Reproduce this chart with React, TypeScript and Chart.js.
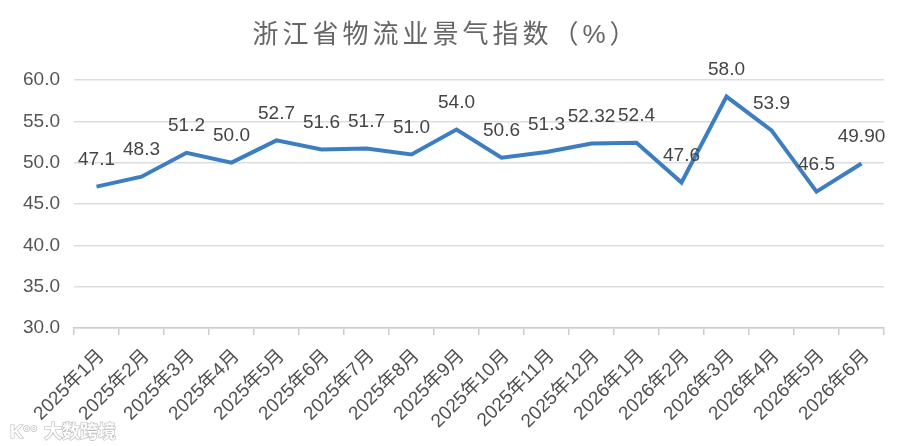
import React, { useEffect, useRef } from "react";
import { Chart, registerables } from "chart.js";

Chart.register(...registerables);

const categories = [
  "2025年1月", "2025年2月", "2025年3月", "2025年4月", "2025年5月", "2025年6月",
  "2025年7月", "2025年8月", "2025年9月", "2025年10月", "2025年11月", "2025年12月",
  "2026年1月", "2026年2月", "2026年3月", "2026年4月", "2026年5月", "2026年6月",
];
const values = [47.1, 48.3, 51.2, 50.0, 52.7, 51.6, 51.7, 51.0, 54.0, 50.6, 51.3, 52.32, 52.4, 47.6, 58.0, 53.9, 46.5, 49.9];
const valueLabels = ["47.1", "48.3", "51.2", "50.0", "52.7", "51.6", "51.7", "51.0", "54.0", "50.6", "51.3", "52.32", "52.4", "47.6", "58.0", "53.9", "46.5", "49.90"];
const title = "浙江省物流业景气指数（%）";
const watermark = "大数跨境";
const yMin = 30;
const yMax = 60;
const yStep = 5;

const FONT = '"Liberation Sans", "Noto Sans CJK SC", sans-serif';

const labelPlugin = {
  id: "customLabels",
  afterDatasetsDraw(chart: any) {
    const ctx = chart.ctx;
    const meta = chart.getDatasetMeta(0);
    ctx.save();
    ctx.font = `19px ${FONT}`;
    ctx.fillStyle = "#444444";
    ctx.textAlign = "center";
    ctx.textBaseline = "middle";
    meta.data.forEach((pt: any, i: number) => {
      ctx.fillText(valueLabels[i], pt.x, pt.y - 27);
    });
    ctx.restore();
  },
  afterDraw(chart: any) {
    const ctx = chart.ctx;
    ctx.save();
    ctx.font = `26px ${FONT}`;
    (ctx as any).letterSpacing = "4px";
    ctx.fillStyle = "#666666";
    ctx.textAlign = "center";
    ctx.textBaseline = "middle";
    ctx.fillText(title, 446, 36);
    (ctx as any).letterSpacing = "0px";
    ctx.font = `bold 18px ${FONT}`;
    ctx.textAlign = "left";
    ctx.lineWidth = 1.2;
    ctx.strokeStyle = "#b8b8b8";
    ctx.fillStyle = "rgba(255,255,255,0.95)";
    ctx.strokeText("K°°", 10, 433);
    ctx.fillText("K°°", 10, 433);
    ctx.strokeText(watermark, 44, 433);
    ctx.fillText(watermark, 44, 433);
    ctx.restore();
  },
};

export default function App() {
  const ref = useRef<HTMLCanvasElement | null>(null);
  useEffect(() => {
    document.body.style.margin = "0";
    if (!ref.current) return;
    const chart = new Chart(ref.current, {
      type: "line",
      data: {
        labels: categories,
        datasets: [
          {
            data: values,
            borderColor: "#3d7ec1",
            borderWidth: 4,
            pointRadius: 0,
            tension: 0,
            fill: false,
          },
        ],
      },
      options: {
        animation: false,
        responsive: false,
        maintainAspectRatio: false,
        layout: { padding: { top: 80, right: 16, left: 0, bottom: 0 } },
        plugins: { legend: { display: false }, tooltip: { enabled: false }, title: { display: false } },
        scales: {
          x: {
            type: "category",
            offset: true,
            grid: { display: true, drawOnChartArea: false, offset: true, tickLength: 7, color: "#cccccc", lineWidth: 1.5 },
            border: { display: true, color: "#cccccc", width: 1.5 },
            ticks: {
              color: "#505050",
              font: { size: 19, family: FONT },
              maxRotation: 45,
              minRotation: 45,
              autoSkip: false,
              padding: 10,
              labelOffset: 5,
            },
            afterFit(scale: any) {
              scale.height = 118;
            },
          },
          y: {
            min: yMin,
            max: yMax,
            grid: { color: "#dddddd", lineWidth: 1.5, drawTicks: false },
            border: { display: false },
            ticks: {
              stepSize: yStep,
              color: "#555555",
              font: { size: 19, family: FONT },
              padding: 14,
              callback: (v: any) => Number(v).toFixed(1),
            },
            afterFit(scale: any) {
              scale.width = 74;
            },
          },
        },
      },
      plugins: [labelPlugin],
    });
    return () => chart.destroy();
  }, []);
  return (
    <div style={{ width: 900, height: 446 }}>
      <canvas ref={ref} width={900} height={446} style={{ display: "block", width: 900, height: 446 }} />
    </div>
  );
}
